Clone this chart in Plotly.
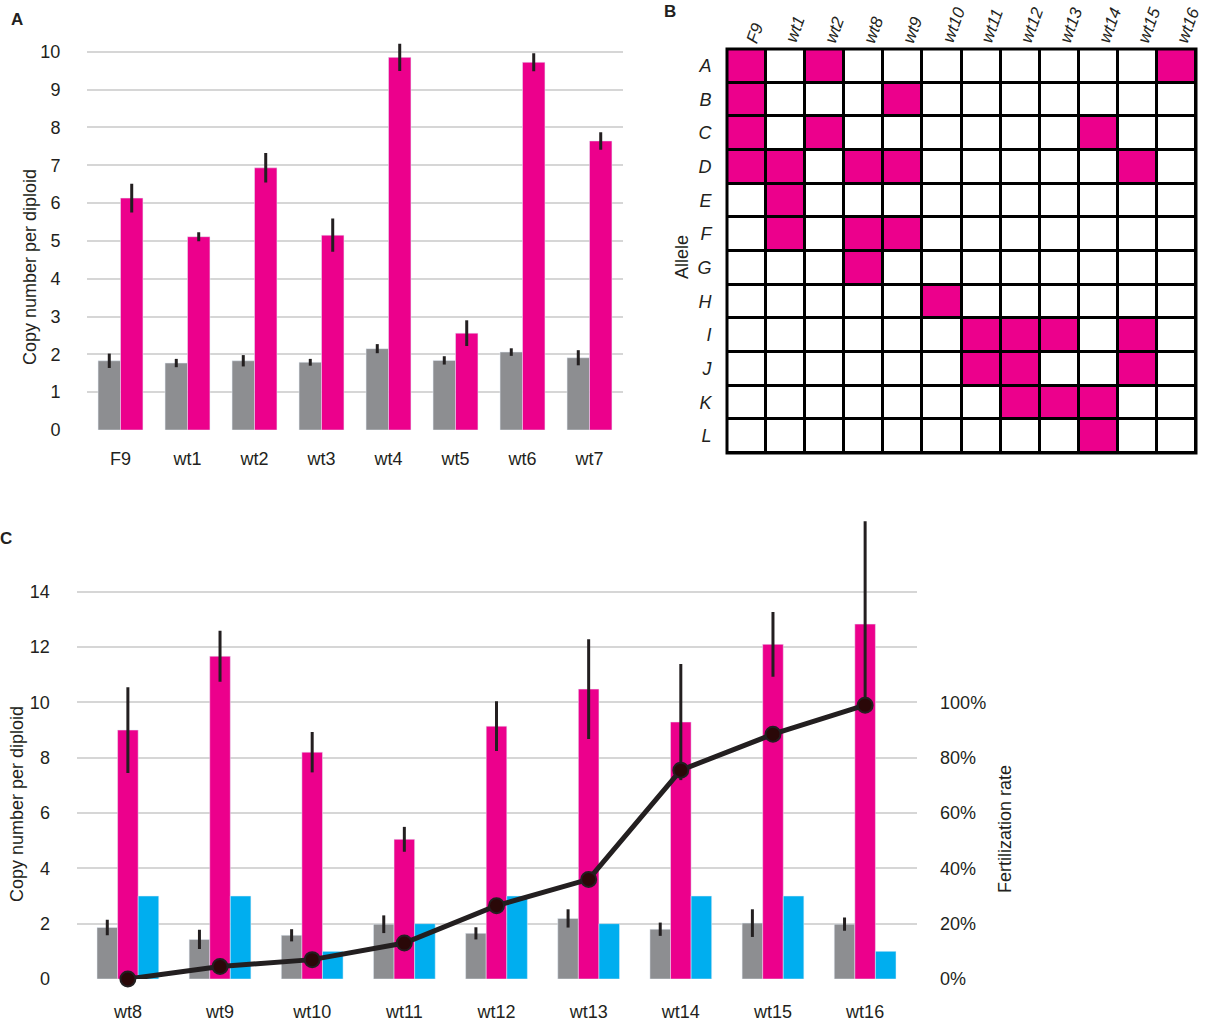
import plotly.graph_objects as go

# ---------------- Data ----------------
# Panel A
strains_A = ["F9", "wt1", "wt2", "wt3", "wt4", "wt5", "wt6", "wt7"]
gray_A = [1.83, 1.77, 1.83, 1.79, 2.15, 1.84, 2.06, 1.91]
gray_A_err = [0.19, 0.11, 0.15, 0.09, 0.12, 0.11, 0.10, 0.20]
pink_A = [6.13, 5.11, 6.93, 5.15, 9.85, 2.56, 9.72, 7.64]
pink_A_err = [0.38, 0.12, 0.39, 0.44, 0.36, 0.34, 0.24, 0.23]
ticks_A = [0, 1, 2, 3, 4, 5, 6, 7, 8, 9, 10]

# Panel B
strains_B = ["F9", "wt1", "wt2", "wt8", "wt9", "wt10", "wt11", "wt12", "wt13", "wt14", "wt15", "wt16"]
alleles_B = ["A", "B", "C", "D", "E", "F", "G", "H", "I", "J", "K", "L"]
presence_B = [
    [1, 0, 1, 0, 0, 0, 0, 0, 0, 0, 0, 1],  # A
    [1, 0, 0, 0, 1, 0, 0, 0, 0, 0, 0, 0],  # B
    [1, 0, 1, 0, 0, 0, 0, 0, 0, 1, 0, 0],  # C
    [1, 1, 0, 1, 1, 0, 0, 0, 0, 0, 1, 0],  # D
    [0, 1, 0, 0, 0, 0, 0, 0, 0, 0, 0, 0],  # E
    [0, 1, 0, 1, 1, 0, 0, 0, 0, 0, 0, 0],  # F
    [0, 0, 0, 1, 0, 0, 0, 0, 0, 0, 0, 0],  # G
    [0, 0, 0, 0, 0, 1, 0, 0, 0, 0, 0, 0],  # H
    [0, 0, 0, 0, 0, 0, 1, 1, 1, 0, 1, 0],  # I
    [0, 0, 0, 0, 0, 0, 1, 1, 0, 0, 1, 0],  # J
    [0, 0, 0, 0, 0, 0, 0, 1, 1, 1, 0, 0],  # K
    [0, 0, 0, 0, 0, 0, 0, 0, 0, 1, 0, 0],  # L
]

# Panel C
strains_C = ["wt8", "wt9", "wt10", "wt11", "wt12", "wt13", "wt14", "wt15", "wt16"]
gray_C = [1.86, 1.43, 1.58, 1.98, 1.65, 2.19, 1.80, 2.02, 1.98]
gray_C_err = [0.28, 0.35, 0.22, 0.32, 0.22, 0.33, 0.24, 0.50, 0.24]
pink_C = [9.00, 11.67, 8.20, 5.05, 9.14, 10.48, 9.29, 12.10, 12.83]
pink_C_err_plus = [1.55, 0.92, 0.73, 0.45, 0.90, 1.80, 2.10, 1.17, 3.72]
pink_C_err_minus = [1.55, 0.92, 0.73, 0.45, 0.90, 1.80, 2.10, 1.17, 2.95]
blue_C = [3, 3, 1, 2, 3, 2, 3, 3, 1]
fert_C = [0.0, 0.045, 0.07, 0.13, 0.265, 0.36, 0.755, 0.885, 0.99]
ticks_C = [0, 2, 4, 6, 8, 10, 12, 14]
ticks_C_right = [0, 0.2, 0.4, 0.6, 0.8, 1.0]

# ---------------- Style ----------------
W, H = 1213, 1023
FONT = "Liberation Sans, Arial, sans-serif"
TXT = "#231F20"
PINK = "#EC008C"
GRAY = "#8D8E91"
BLUE = "#00AEEF"
ERR = "#231F20"
GRID = "#D6D6D6"


def px_x(p):
    return p / W


def px_y(p):
    return 1 - p / H


fig = go.Figure()

# Panel A bars
fig.add_trace(go.Bar(
    x=strains_A, y=gray_A, marker_color=GRAY, xaxis="x", yaxis="y",
    error_y=dict(type="data", array=gray_A_err, color=ERR, thickness=3, width=0),
    showlegend=False))
fig.add_trace(go.Bar(
    x=strains_A, y=pink_A, marker_color=PINK, xaxis="x", yaxis="y",
    error_y=dict(type="data", array=pink_A_err, color=ERR, thickness=3, width=0),
    showlegend=False))

# Panel C bars
fig.add_trace(go.Bar(
    x=strains_C, y=gray_C, marker_color=GRAY, xaxis="x2", yaxis="y2",
    error_y=dict(type="data", array=gray_C_err, color=ERR, thickness=3, width=0),
    showlegend=False))
fig.add_trace(go.Bar(
    x=strains_C, y=pink_C, marker_color=PINK, xaxis="x2", yaxis="y2",
    error_y=dict(type="data", symmetric=False, array=pink_C_err_plus,
                 arrayminus=pink_C_err_minus, color=ERR, thickness=3, width=0),
    showlegend=False))
fig.add_trace(go.Bar(
    x=strains_C, y=blue_C, marker_color=BLUE, xaxis="x2", yaxis="y2",
    showlegend=False))
fig.add_trace(go.Scatter(
    x=strains_C, y=fert_C, xaxis="x2", yaxis="y3", mode="lines+markers",
    line=dict(color=ERR, width=5),
    marker=dict(size=15, color="#2A0808", line=dict(color=ERR, width=2)),
    showlegend=False, cliponaxis=False))

# Panel B heatmap
fig.add_trace(go.Heatmap(
    x=strains_B, y=alleles_B, z=presence_B, xaxis="x3", yaxis="y4",
    colorscale=[[0, "white"], [1, PINK]], zmin=0, zmax=1, showscale=False,
    xgap=3, ygap=3, hoverongaps=False))

# Domains (reference pixel positions)
A_x = [px_x(87), px_x(623)]
A_y = [px_y(430), px_y(430 - 10.3 * 37.83)]
C_x = [px_x(76.5), px_x(916.5)]
C_y = [px_y(979), px_y(979 - 16.6 * 27.66)]
B_x = [px_x(727), px_x(1196)]
B_y = [px_y(453), px_y(49)]

tickfont = dict(family=FONT, size=18, color=TXT)

fig.update_layout(
    width=W, height=H,
    margin=dict(l=0, r=0, t=0, b=0, autoexpand=False),
    paper_bgcolor="white", plot_bgcolor="white",
    barmode="group", bargap=0.33, bargroupgap=0,
    font=dict(family=FONT, color=TXT),
    xaxis=dict(domain=A_x, anchor="y", showgrid=False, zeroline=False, showline=False,
               ticks="outside", ticklen=12, tickcolor="rgba(0,0,0,0)", tickfont=tickfont,
               automargin=False),
    yaxis=dict(domain=A_y, anchor="x", range=[0, 10.3], tickvals=ticks_A,
               showgrid=True, gridcolor=GRID, gridwidth=2, zeroline=False, showline=False,
               ticks="outside", ticklen=22, tickcolor="rgba(0,0,0,0)", tickfont=tickfont,
               automargin=False),
    xaxis2=dict(domain=C_x, anchor="y2", showgrid=False, zeroline=False, showline=False,
                ticks="outside", ticklen=16, tickcolor="rgba(0,0,0,0)", tickfont=tickfont,
                automargin=False),
    yaxis2=dict(domain=C_y, anchor="x2", range=[0, 16.6], tickvals=ticks_C,
                showgrid=True, gridcolor=GRID, gridwidth=2, zeroline=False, showline=False,
                ticks="outside", ticklen=22, tickcolor="rgba(0,0,0,0)", tickfont=tickfont,
                automargin=False),
    yaxis3=dict(overlaying="y2", anchor="x2", side="right", range=[0, 1.66],
                tickvals=ticks_C_right, tickformat=".0%", showgrid=False, zeroline=False,
                showline=False, ticks="outside", ticklen=19, tickcolor="rgba(0,0,0,0)",
                tickfont=tickfont, automargin=False),
    xaxis3=dict(domain=B_x, anchor="y4", range=[-0.5, len(strains_B) - 0.5],
                showgrid=False, zeroline=False, showline=False,
                showticklabels=False, ticks="", automargin=False),
    yaxis4=dict(domain=B_y, anchor="x3", range=[len(alleles_B) - 0.5, -0.5],
                showgrid=False, zeroline=False, showline=False, ticks="outside", ticklen=11,
                tickcolor="rgba(0,0,0,0)", automargin=False,
                tickfont=dict(family=FONT, size=18, color=TXT, style="italic")),
)

# Heatmap black grid background and border
fig.add_shape(type="rect", xref="x3 domain", yref="y4 domain", x0=0, x1=1, y0=0, y1=1,
              fillcolor="black", line=dict(width=0), layer="below")
fig.add_shape(type="rect", xref="x3 domain", yref="y4 domain", x0=0, x1=1, y0=0, y1=1,
              fillcolor="rgba(0,0,0,0)", line=dict(color="black", width=3), layer="above")

annotations = []
# Column labels of panel B
for s in strains_B:
    annotations.append(dict(
        x=s, xref="x3", y=px_y(48), yref="paper", text=s, showarrow=False,
        textangle=-70, xanchor="left", yanchor="bottom", xshift=-6,
        font=dict(family=FONT, size=17, color=TXT, style="italic")))


def label(xp, yp, text, angle=0, size=18):
    return dict(x=px_x(xp), y=px_y(yp), xref="paper", yref="paper", text=text,
                textangle=angle, showarrow=False, xanchor="center", yanchor="middle",
                font=dict(family=FONT, size=size, color=TXT))


annotations += [
    label(30, 267, "Copy number per diploid", -90),
    label(17, 804, "Copy number per diploid", -90),
    label(1005, 829, "Fertilization rate", -90),
    label(682, 257, "Allele", -90),
    label(17, 19.5, "<b>A</b>", 0, 17),
    label(670, 11.5, "<b>B</b>", 0, 17),
    label(6, 538, "<b>C</b>", 0, 17),
]
fig.update_layout(annotations=annotations)

# remove the default page margin so the figure fills the window exactly
fig.write_html("out.html",
               config={"displayModeBar": False, "staticPlot": True},
               post_script="document.body.style.margin='0';document.body.style.overflow='hidden';")
